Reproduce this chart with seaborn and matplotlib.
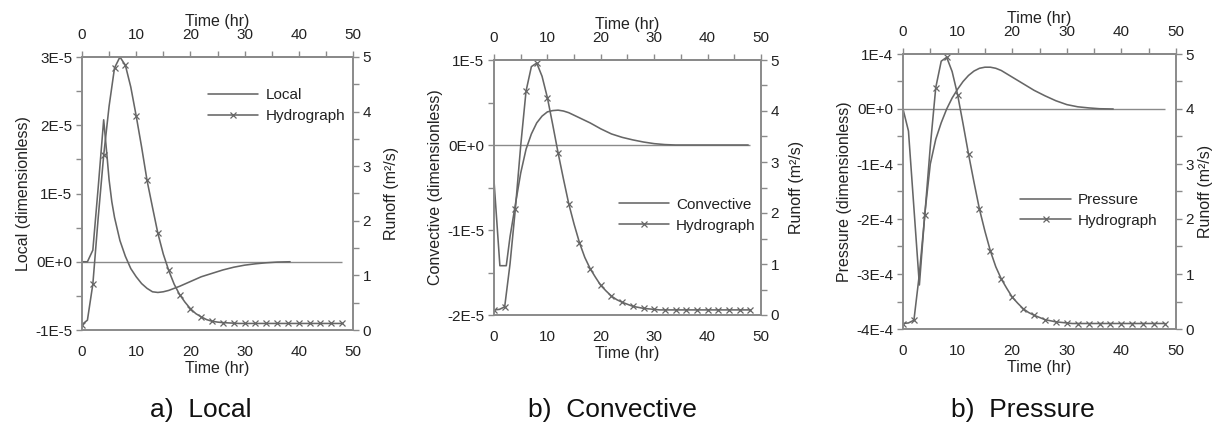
import matplotlib
matplotlib.use("Agg")
import matplotlib.pyplot as plt
import seaborn as sns
from matplotlib.ticker import FixedLocator

sns.set_theme(style="white")
plt.rcParams['font.family'] = ['Liberation Sans', 'DejaVu Sans']

# ---------------- data ----------------
hours = list(range(0, 49))

# runoff hydrograph (m^2/s), hourly
runoff_a = [0.10, 0.18, 0.84, 2.07, 3.20, 4.10, 4.80, 5.00, 4.85, 4.45,
            3.92, 3.35, 2.74, 2.25, 1.77, 1.39, 1.09, 0.84, 0.65, 0.51,
            0.39, 0.30, 0.24, 0.19, 0.16, 0.145, 0.135, 0.13, 0.125, 0.12,
            0.12, 0.12, 0.12, 0.12, 0.12, 0.12, 0.12, 0.12, 0.12, 0.12,
            0.12, 0.12, 0.12, 0.12, 0.12, 0.12, 0.12, 0.12, 0.12]
runoff_bc = [0.10, 0.11, 0.16, 1.00, 2.08, 3.32, 4.39, 4.87, 4.94, 4.68,
             4.26, 3.73, 3.18, 2.67, 2.18, 1.78, 1.42, 1.13, 0.91, 0.74,
             0.58, 0.47, 0.37, 0.30, 0.25, 0.21, 0.17, 0.15, 0.13, 0.12,
             0.11, 0.10, 0.10, 0.10, 0.10, 0.10, 0.10, 0.10, 0.10, 0.10,
             0.10, 0.10, 0.10, 0.10, 0.10, 0.10, 0.10, 0.10, 0.10]

# local acceleration term (dimensionless)
local_time = [0, 1, 2, 3, 4, 4.5, 5, 5.5, 6, 7, 8, 9, 10, 11, 12, 13, 14, 15,
              16, 18, 20, 22, 24, 26, 28, 30, 32, 34, 36, 38.4]
local_vals = [0.0, 0.0, 0.17e-5, 1.10e-5, 2.08e-5, 1.65e-5, 1.20e-5, 0.88e-5,
              0.65e-5, 0.31e-5, 0.08e-5, -0.10e-5, -0.22e-5, -0.32e-5,
              -0.39e-5, -0.44e-5, -0.45e-5, -0.44e-5, -0.42e-5, -0.36e-5,
              -0.29e-5, -0.22e-5, -0.17e-5, -0.12e-5, -0.08e-5, -0.05e-5,
              -0.03e-5, -0.015e-5, -0.005e-5, 0.0]

# convective acceleration term (dimensionless)
conv_time = [0, 1.1, 2.3, 3, 4, 5, 6, 7, 8, 9, 10, 11, 12, 13, 14, 16, 18,
             20, 22, 24, 26, 28, 30, 32, 34, 47.6]
conv_vals = [-0.42e-5, -1.42e-5, -1.42e-5, -1.08e-5, -0.70e-5, -0.33e-5,
             -0.05e-5, 0.13e-5, 0.26e-5, 0.34e-5, 0.39e-5, 0.405e-5, 0.41e-5,
             0.40e-5, 0.38e-5, 0.32e-5, 0.26e-5, 0.19e-5, 0.13e-5, 0.09e-5,
             0.06e-5, 0.035e-5, 0.016e-5, 0.005e-5, 0.0, 0.0]

# pressure term (dimensionless)
pres_time = [0, 1, 2, 3, 4, 5, 6, 7, 8, 9, 10, 11, 12, 13, 14, 15, 16, 17,
             18, 20, 22, 24, 26, 28, 30, 32, 34, 36, 38.5]
pres_vals = [0.0, -0.40e-4, -1.80e-4, -3.20e-4, -1.90e-4, -1.00e-4, -0.55e-4,
             -0.25e-4, 0.0, 0.20e-4, 0.36e-4, 0.50e-4, 0.61e-4, 0.69e-4,
             0.74e-4, 0.76e-4, 0.76e-4, 0.74e-4, 0.70e-4, 0.58e-4, 0.46e-4,
             0.34e-4, 0.24e-4, 0.15e-4, 0.08e-4, 0.04e-4, 0.02e-4, 0.005e-4,
             0.0]

time_ticks = [0, 10, 20, 30, 40, 50]
time_minor = [5, 15, 25, 35, 45]
runoff_ticks = [0, 1, 2, 3, 4, 5]
runoff_minor = [0.5, 1.5, 2.5, 3.5, 4.5]

local_ticks = [-1e-5, 0, 1e-5, 2e-5, 3e-5]
local_ticklabels = ["-1E-5", "0E+0", "1E-5", "2E-5", "3E-5"]
local_minor = [-0.5e-5, 0.5e-5, 1.5e-5, 2.5e-5]
conv_ticks = [-2e-5, -1e-5, 0, 1e-5]
conv_ticklabels = ["-2E-5", "-1E-5", "0E+0", "1E-5"]
conv_minor = [-1.5e-5, -0.5e-5, 0.5e-5]
pres_ticks = [-4e-4, -3e-4, -2e-4, -1e-4, 0, 1e-4]
pres_ticklabels = ["-4E-4", "-3E-4", "-2E-4", "-1E-4", "0E+0", "1E-4"]
pres_minor = [-3.5e-4, -2.5e-4, -1.5e-4, -0.5e-4, 0.5e-4]

# ---------------- styling ----------------
LINE = "#666666"
FRAME = "#8a8a8a"
TXT = "#222222"
FS = 11
LFS = 11.5

W, H = 1222, 423
fig = plt.figure(figsize=(W / 100, H / 100), dpi=100)
fig.patch.set_facecolor("white")


def rect(left, top, right, bottom):
    return [left / W, 1 - bottom / H, (right - left) / W, (bottom - top) / H]


def style_ticks(axis_obj, which_axis):
    axis_obj.tick_params(axis=which_axis, which="both", direction="out",
                         length=4, width=1.0, color=FRAME, labelcolor=TXT,
                         labelsize=FS)


def draw_panel(box, t, vals, name, runoff, ticks, ticklabels, minor, ylim,
               leg_anchor, caption, cap_x, rpad):
    ax = fig.add_axes(rect(*box))
    ax2 = ax.twinx()
    for a in (ax, ax2):
        a.set_facecolor("none")
        for sp in a.spines.values():
            sp.set_color(FRAME)
            sp.set_linewidth(1.2)
            sp.set_visible(True)

    ax.hlines(0, 0, 48, color=FRAME, linewidth=1.0, zorder=1)
    sns.lineplot(x=t, y=vals, ax=ax, color=LINE, linewidth=1.15,
                 errorbar=None, sort=False, legend=False)
    sns.lineplot(x=hours, y=runoff, ax=ax2, color=LINE, linewidth=1.15,
                 marker="x", markevery=2, markersize=5,
                 markeredgecolor=LINE, markeredgewidth=0.9,
                 errorbar=None, sort=False, legend=False)

    ax.set_xlim(0, 50)
    ax.set_ylim(*ylim)
    ax2.set_ylim(0, 5)
    ax.set_xticks(time_ticks)
    ax.xaxis.set_minor_locator(FixedLocator(time_minor))
    ax.set_yticks(ticks, ticklabels)
    ax.yaxis.set_minor_locator(FixedLocator(minor))
    ax2.set_yticks(runoff_ticks)
    ax2.yaxis.set_minor_locator(FixedLocator(runoff_minor))

    style_ticks(ax, "x")
    ax.tick_params(axis="x", pad=7)
    style_ticks(ax, "y")
    ax.tick_params(axis="y", pad=3)
    style_ticks(ax2, "y")
    ax2.tick_params(axis="y", pad=3)

    top = ax.secondary_xaxis("top")
    top.set_xticks(time_ticks)
    top.xaxis.set_minor_locator(FixedLocator(time_minor))
    top.tick_params(axis="x", which="both", direction="out", length=4,
                    width=1.0, color=FRAME, labelcolor=TXT, labelsize=FS,
                    pad=7)
    top.spines["top"].set_color(FRAME)
    top.spines["top"].set_linewidth(1.2)
    top.set_xlabel("Time (hr)", fontsize=LFS, color=TXT, labelpad=1)

    ax.set_xlabel("Time (hr)", fontsize=LFS, color=TXT, labelpad=1)
    ax.set_ylabel(f"{name} (dimensionless)", fontsize=LFS, color=TXT,
                  labelpad=3)
    ax2.set_ylabel("Runoff (m²/s)", fontsize=LFS, color=TXT, labelpad=rpad)

    handles = [ax.lines[0], ax2.lines[0]]
    leg = ax2.legend(handles, [name, "Hydrograph"], loc="upper left",
                     bbox_to_anchor=leg_anchor, frameon=False, fontsize=FS,
                     handlelength=3.3, handletextpad=0.45, labelspacing=0.45,
                     borderpad=0, borderaxespad=0)
    for txt in leg.get_texts():
        txt.set_color(TXT)

    fig.text(cap_x / W, 1 - 417 / H, caption, ha="center", va="baseline",
             fontsize=19, color="#111111")


draw_panel((82, 57, 353, 330), local_time, local_vals, "Local", runoff_a,
           local_ticks, local_ticklabels, local_minor, (-1e-5, 3e-5),
           (0.465, 0.885), "a)  Local", 201, 9)
draw_panel((494, 60, 761, 315), conv_time, conv_vals, "Convective", runoff_bc,
           conv_ticks, conv_ticklabels, conv_minor, (-2e-5, 1e-5),
           (0.468, 0.46), "b)  Convective", 612, 7)
draw_panel((903, 54, 1176, 329), pres_time, pres_vals, "Pressure", runoff_bc,
           pres_ticks, pres_ticklabels, pres_minor, (-4e-4, 1e-4),
           (0.43, 0.495), "b)  Pressure", 1023, 3)

fig.savefig("out.png", dpi=100, facecolor="white")
